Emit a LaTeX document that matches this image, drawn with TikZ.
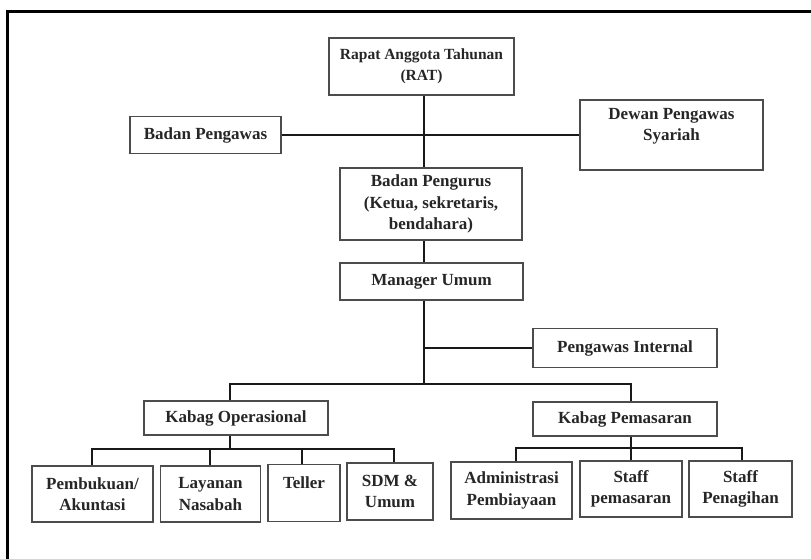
\documentclass[tikz,border=0pt]{standalone}
\usepackage{fontspec}
\setmainfont{Liberation Serif}
\begin{document}
\begin{tikzpicture}[x=1pt,y=-1pt,
  box/.style={draw=black!70, line width=1.1pt, fill=white, align=center,
    inner sep=0pt, font=\bfseries\fontsize{17}{21.5}\selectfont, text=black!85},
  link/.style={line width=1.8pt, draw=black!90}]
\useasboundingbox (0,0) rectangle (811,559);
\fill[white] (0,0) rectangle (811,559);
% outer frame
\draw[line width=3pt] (7.5,559) -- (7.5,11.5) -- (811,11.5);

% top level
\node[box, minimum width=185, minimum height=57, font=\bfseries\fontsize{15.5}{21.5}\selectfont]
  (rat) at (421.5,66.5) {Rapat Anggota Tahunan\\(RAT)};
\node[box, minimum width=151, minimum height=37] (bpw) at (205.5,135) {Badan Pengawas};
\node[box, minimum width=183, minimum height=70] (dps) at (671.5,135) {Dewan Pengawas\\Syariah\\\mbox{}};
\node[box, minimum width=182, minimum height=72] (bpg) at (431,204) {Badan Pengurus\\(Ketua, sekretaris,\\bendahara)};
\node[box, minimum width=183, minimum height=37] (mu) at (431.5,281.5) {Manager Umum};
\node[box, minimum width=184, minimum height=39] (pi) at (625,348) {Pengawas Internal};

% department heads
\node[box, minimum width=184, minimum height=34] (kop) at (236,418) {Kabag Operasional};
\node[box, minimum width=184, minimum height=34] (kpm) at (625,419) {Kabag Pemasaran};

% operational units
\node[box, minimum width=121, minimum height=56] (pa) at (92.5,494) {Pembukuan/\\Akuntasi};
\node[box, minimum width=100, minimum height=56] (ln) at (210.5,494) {Layanan\\Nasabah};
\node[box, minimum width=72, minimum height=57] (tl) at (304,493) {Teller\\\mbox{}};
\node[box, minimum width=86, minimum height=57] (sdm) at (390,491.5) {SDM \&\\Umum};

% marketing units
\node[box, minimum width=121, minimum height=57] (ap) at (511.5,490.5) {Administrasi\\Pembiayaan};
\node[box, minimum width=102, minimum height=56] (sp) at (631,489) {Staff\\pemasaran};
\node[box, minimum width=103, minimum height=56] (sph) at (740.5,489) {Staff\\Penagihan};

% connector guide points
\coordinate (tx) at (424,0);
\coordinate (c1) at (230,384);
\coordinate (c2) at (631,384);
% operational bar ends and drops
\coordinate (o1) at (92,449);
\coordinate (o2) at (210,449);
\coordinate (o3) at (302,449);
\coordinate (o4) at (394,449);
% marketing bar ends and drops
\coordinate (m1) at (516,448);
\coordinate (m2) at (631,448);
\coordinate (m3) at (742,448);

% connectors
\draw[link] (rat.south -| tx) -- (bpg.north -| tx);
\draw[link] (bpw.east) -- (dps.west);
\draw[link] (bpg.south -| tx) -- (mu.north -| tx);
\draw[link] (mu.south -| tx) -- (tx |- c1);
\draw[link] (pi.west) -- (pi.west -| tx);
\draw[link] (kop.north -| c1) -- (c1) -- (c2) -- (kpm.north -| c2);

\draw[link] (kop.south -| c1) -- (c1 |- o1);
\draw[link] (pa.north -| o1) -- (o1) -- (o4) -- (sdm.north -| o4);
\draw[link] (ln.north -| o2) -- (o2);
\draw[link] (tl.north -| o3) -- (o3);

\draw[link] (kpm.south -| m2) -- (m2);
\draw[link] (ap.north -| m1) -- (m1) -- (m3) -- (sph.north -| m3);
\draw[link] (sp.north -| m2) -- (m2);
\end{tikzpicture}
\end{document}
